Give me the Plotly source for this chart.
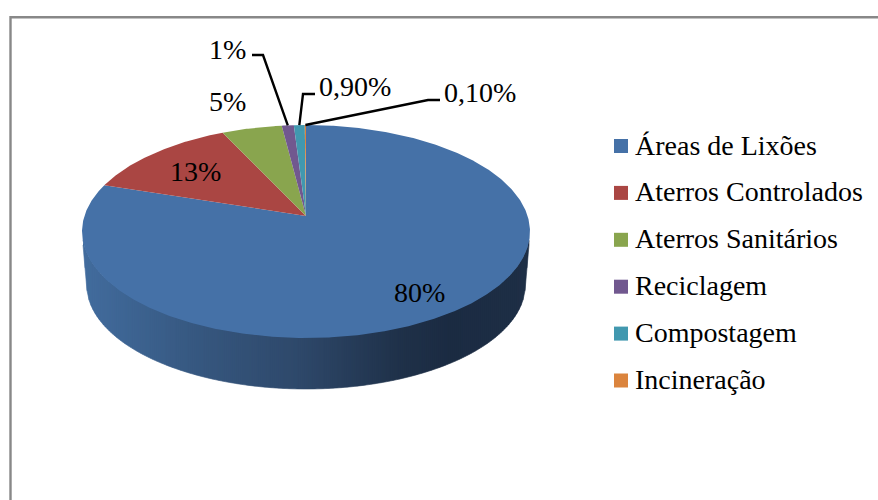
import numpy as np
import plotly.graph_objects as go

categories = ["Áreas de Lixões", "Aterros Controlados", "Aterros Sanitários",
              "Reciclagem", "Compostagem", "Incineração"]
values = [80, 13, 5, 1, 0.9, 0.1]
value_labels = ["80%", "13%", "5%", "1%", "0,90%", "0,10%"]
colors = ["#4571A7", "#AA4643", "#89A54E", "#71588F", "#4198AF", "#DB843D"]

FONT = "Liberation Serif"
FONT_SIZE = 28

# Tilted disc: a projective map from the unit circle to the page
CX, Y_TOP, K = 306.0, 216.0, 0.1456
R_TOP, S_TOP = 221.6, 104.2
Y_BOT, R_BOT, S_BOT = 269.6, 217.0, 102.0


def project(theta, depth=0.0):
    """Clockwise angle from twelve o'clock to page position at a depth in 0..1."""
    u, v = np.sin(theta), -np.cos(theta)
    w = 1 - K * v
    r = R_TOP + (R_BOT - R_TOP) * depth
    s = S_TOP + (S_BOT - S_TOP) * depth
    y0 = Y_TOP + (Y_BOT - Y_TOP) * depth
    return CX + r * u / w, y0 + s * v / w


def front_arc(xs, depth):
    theta = np.linspace(np.arccos(-K), 2 * np.pi - np.arccos(-K), 600)
    x, y = project(theta, depth)
    order = np.argsort(x)
    return np.interp(xs, x[order], y[order], left=np.nan, right=np.nan)


fig = go.Figure()

# Side wall: vertical bands on whole-pixel edges, darkening to the right
stop_x = [82, 140, 200, 300, 400, 450, 530]
stop_r = [66, 60, 54, 46, 31, 27, 30]
stop_g = [108, 98, 87, 72, 49, 43, 47]
stop_b = [158, 143, 127, 106, 73, 66, 70]
edges = np.arange(83.0, 530.0, 2.0)
depths = np.linspace(0, 1, 40)
fine = np.stack([front_arc(edges, d) for d in depths])
lower = np.nanmax(fine, axis=0)
upper = np.nanmin(fine, axis=0)
for i in range(len(edges) - 1):
    x0, x1 = edges[i], edges[i + 1]
    xm = (x0 + x1) / 2
    col = "rgb({:.0f},{:.0f},{:.0f})".format(np.interp(xm, stop_x, stop_r),
                                              np.interp(xm, stop_x, stop_g),
                                              np.interp(xm, stop_x, stop_b))
    fig.add_trace(go.Scatter(
        x=[x0, x1, x1, x0],
        y=[upper[i] - 1, upper[i + 1] - 1, lower[i + 1], lower[i]],
        mode="lines", fill="toself", fillcolor=col,
        line=dict(width=0.6, color=col), hoverinfo="skip", showlegend=False))

# Top face: one wedge per category, angles taken from the values
total = sum(values)
start = 0.0
mid_angles = []
for name, val, col in zip(categories, values, colors):
    a0 = start / total * 2 * np.pi
    a1 = (start + val) / total * 2 * np.pi
    mid_angles.append((a0 + a1) / 2)
    theta = np.linspace(a0, a1, max(3, int(val * 8)))
    x, y = project(theta)
    fig.add_trace(go.Scatter(
        x=np.r_[CX, x, CX], y=np.r_[Y_TOP, y, Y_TOP],
        mode="lines", fill="toself", fillcolor=col,
        line=dict(width=0), name=name, hoverinfo="name", showlegend=False))
    start += val

# Leader lines run from the rim at each small wedge's middle to an elbow
elbows = {3: [(263, 55), (252, 55)], 4: [(303, 94), (315, 94)], 5: [(428, 100), (440, 100)]}
for idx, pts in elbows.items():
    rx, ry = project(mid_angles[idx])
    fig.add_trace(go.Scatter(
        x=[float(rx)] + [p[0] for p in pts], y=[float(ry)] + [p[1] for p in pts],
        mode="lines", line=dict(color="black", width=2.4),
        hoverinfo="skip", showlegend=False))

# Legend column
legend_y = [146 + i * 46.9 for i in range(len(categories))]
fig.add_trace(go.Scatter(
    x=[621] * len(categories), y=legend_y, mode="markers",
    marker=dict(symbol="square", size=14, color=colors),
    hoverinfo="skip", showlegend=False))

annotations = []
for name, y in zip(categories, legend_y):
    annotations.append(dict(x=633, y=y - 1, text=name, xanchor="left", yanchor="middle",
                            showarrow=False, font=dict(family=FONT, size=FONT_SIZE, color="black")))
label_pos = [(419, 292), (195, 171), (227, 101), (227, 49), (355, 86), (480, 92)]
for txt, (x, y) in zip(value_labels, label_pos):
    annotations.append(dict(x=x, y=y, text=txt, xanchor="center", yanchor="middle",
                            showarrow=False, font=dict(family=FONT, size=FONT_SIZE, color="black")))

fig.update_layout(
    width=878, height=500, margin=dict(l=0, r=0, t=0, b=0),
    paper_bgcolor="white", plot_bgcolor="white", showlegend=False,
    xaxis=dict(range=[0, 878], visible=False, fixedrange=True),
    yaxis=dict(range=[500, 0], visible=False, fixedrange=True),
    annotations=annotations,
    shapes=[dict(type="rect", xref="x", yref="y", x0=10.5, y0=17.3, x1=920, y1=540,
                 line=dict(color="#888888", width=2.4), layer="below")],
)

fig.write_html("out.html", config={"displayModeBar": False})
